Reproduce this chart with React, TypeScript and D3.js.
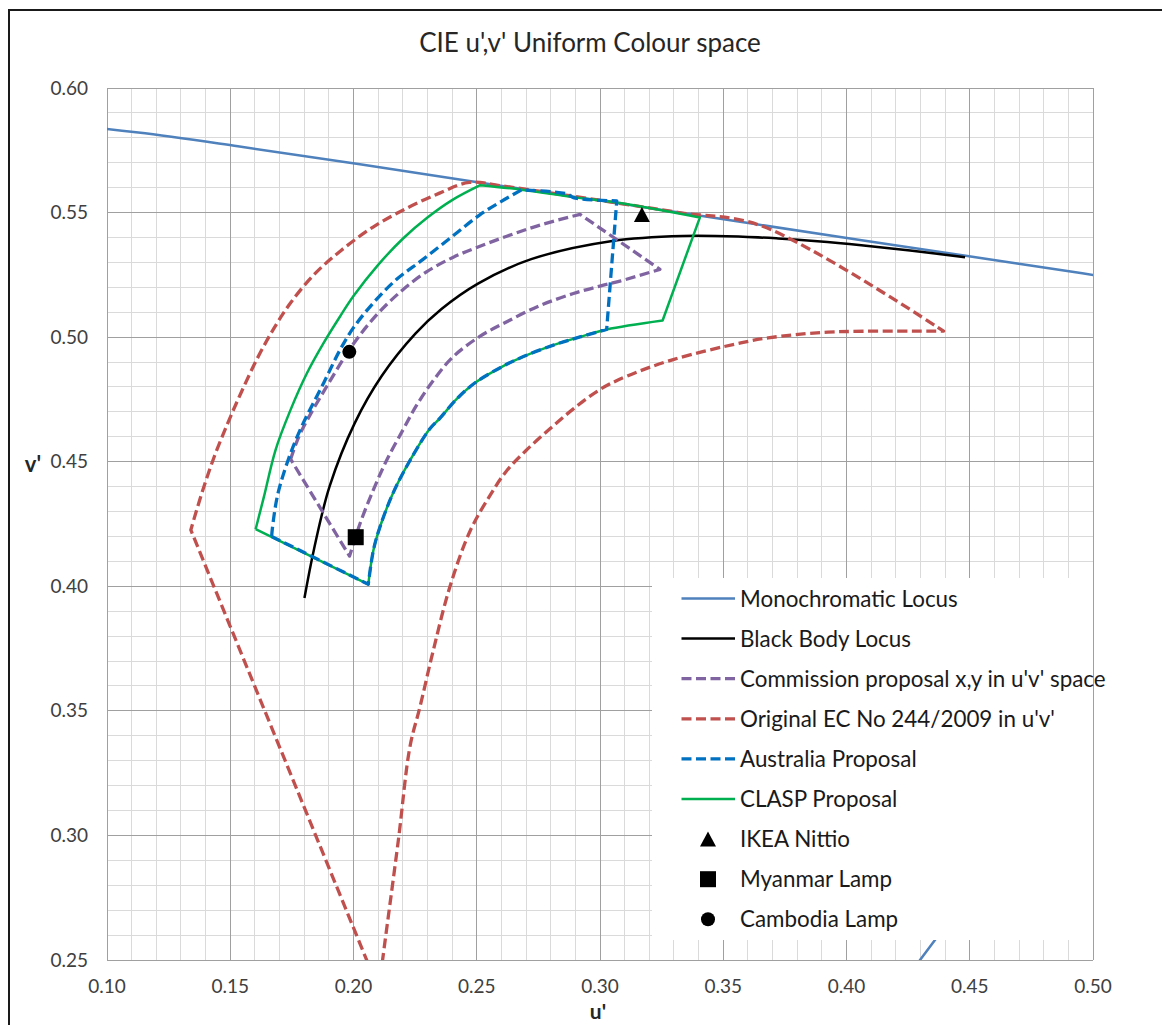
import React from "react";
import * as d3 from "d3";

// ---------- data (u', v') ----------
const xTickValues = [0.1, 0.15, 0.2, 0.25, 0.3, 0.35, 0.4, 0.45, 0.5];
const yTickValues = [0.25, 0.3, 0.35, 0.4, 0.45, 0.5, 0.55, 0.6];

const monochromaticLocus: [number, number][] = [
  [0.0501, 0.5868], [0.0792, 0.5856], [0.1127, 0.5821], [0.1531, 0.5766],
  [0.2026, 0.5694], [0.2623, 0.5604], [0.3315, 0.5501], [0.4035, 0.5393],
  [0.4692, 0.5296], [0.5203, 0.5219], [0.583, 0.5125], [0.6234, 0.5065],
  [0.254, 0.017],
];

const blackBodyLocus: [number, number][] = [
  [0.4481, 0.5321], [0.4258, 0.5348], [0.406, 0.5369], [0.3882, 0.5385],
  [0.3723, 0.5396], [0.358, 0.5403], [0.3336, 0.5406], [0.305, 0.5386],
  [0.2721, 0.5313], [0.2505, 0.5215], [0.2357, 0.5113], [0.2252, 0.5015],
  [0.2115, 0.4845], [0.2005, 0.4655], [0.1903, 0.4401], [0.184, 0.415],
  [0.1801, 0.3953],
];

const commissionProposal: [number, number][] = [
  [0.1745, 0.451], [0.1778, 0.46], [0.1825, 0.469], [0.1892, 0.4803],
  [0.1987, 0.4955], [0.2081, 0.5075], [0.2188, 0.518], [0.2296, 0.5262],
  [0.2403, 0.532], [0.25, 0.536], [0.2622, 0.5405], [0.2757, 0.545],
  [0.2919, 0.5493], [0.3243, 0.5272], [0.3081, 0.5225], [0.3, 0.5205],
  [0.2892, 0.5175], [0.2757, 0.5127], [0.2622, 0.5062], [0.2511, 0.5002],
  [0.2403, 0.492], [0.2323, 0.4825], [0.2255, 0.4725], [0.2202, 0.463],
  [0.2134, 0.4505], [0.2081, 0.4388], [0.2027, 0.4253], [0.1984, 0.4121],
  [0.1745, 0.451],
];

const originalEC: [number, number][] = [
  [0.2103, 0.238], [0.134, 0.4226], [0.1385, 0.4375], [0.1435, 0.452],
  [0.149, 0.4655], [0.1543, 0.4775], [0.161, 0.4915], [0.1677, 0.5035],
  [0.1745, 0.5138], [0.1839, 0.525], [0.1946, 0.5345], [0.2081, 0.5443],
  [0.2215, 0.5517], [0.2349, 0.5578], [0.247, 0.5621], [0.2623, 0.5604],
  [0.3315, 0.5501], [0.3651, 0.5448], [0.4394, 0.5024], [0.3925, 0.502],
  [0.3682, 0.4997], [0.3571, 0.4977], [0.3297, 0.491], [0.3108, 0.4843],
  [0.3, 0.479], [0.2892, 0.4712], [0.2797, 0.4632], [0.27, 0.4545],
  [0.262, 0.4462], [0.2554, 0.4365], [0.2473, 0.4222], [0.2391, 0.3998],
  [0.2324, 0.3744], [0.227, 0.3517], [0.2229, 0.3356], [0.2182, 0.2981],
  [0.2118, 0.25], [0.2103, 0.238],
];

const australiaProposal: [number, number][] = [
  [0.1668, 0.42], [0.1671, 0.4233], [0.1691, 0.4361], [0.1731, 0.4496],
  [0.1785, 0.4631], [0.1879, 0.4816], [0.1946, 0.495], [0.2, 0.5038],
  [0.2081, 0.5138], [0.2175, 0.5232], [0.2282, 0.5312], [0.2403, 0.5406],
  [0.2511, 0.549], [0.26, 0.5545], [0.2682, 0.5591], [0.2865, 0.5575],
  [0.2892, 0.556], [0.3068, 0.5547], [0.3027, 0.5031], [0.2919, 0.5001],
  [0.2811, 0.4968], [0.2689, 0.4922], [0.26, 0.488], [0.2492, 0.4816],
  [0.2419, 0.4752], [0.2351, 0.4675], [0.2309, 0.4631], [0.2228, 0.4503],
  [0.2161, 0.4375], [0.2108, 0.424], [0.2081, 0.4146], [0.206, 0.4008],
  [0.1668, 0.42],
];

const claspProposal: [number, number][] = [
  [0.1603, 0.4229], [0.1637, 0.4361], [0.1684, 0.4548], [0.1745, 0.4709],
  [0.1812, 0.4857], [0.1879, 0.4977], [0.1946, 0.5084], [0.2, 0.5165],
  [0.21, 0.529], [0.22, 0.5395], [0.23, 0.548], [0.24, 0.555],
  [0.2514, 0.561], [0.2682, 0.5592], [0.2892, 0.5562], [0.3068, 0.554],
  [0.3405, 0.548], [0.3254, 0.5067], [0.3027, 0.5031], [0.2919, 0.5001],
  [0.2811, 0.4968], [0.2689, 0.4922], [0.26, 0.488], [0.2492, 0.4816],
  [0.2419, 0.4752], [0.2351, 0.4675], [0.2309, 0.4631], [0.2228, 0.4503],
  [0.2161, 0.4375], [0.2108, 0.424], [0.2081, 0.4146], [0.206, 0.4008],
  [0.1603, 0.4229],
];

const ikeaNittio: [number, number] = [0.317, 0.5492];
const myanmarLamp: [number, number] = [0.2009, 0.4197];
const cambodiaLamp: [number, number] = [0.1983, 0.4941];

const legendNames = [
  "Monochromatic Locus",
  "Black Body Locus",
  "Commission proposal x,y in u'v' space",
  "Original EC No 244/2009 in u'v'",
  "Australia Proposal",
  "CLASP Proposal",
  "IKEA Nittio",
  "Myanmar Lamp",
  "Cambodia Lamp",
];

const FONT = "Lato, 'Open Sans', 'DejaVu Sans', sans-serif";

type Style = { color?: string; width?: number; dash?: string; marker?: string };
const styles: Style[] = [
  { color: "#4F81BD", width: 2.5 },
  { color: "#000000", width: 2.5 },
  { color: "#8064A2", width: 3.3, dash: "10,4.5" },
  { color: "#C0504D", width: 3.3, dash: "10,4.5" },
  { color: "#0070C0", width: 3.3, dash: "10,4.5" },
  { color: "#00B050", width: 2.5 },
  { marker: "triangle" },
  { marker: "square" },
  { marker: "circle" },
];

function markerPath(kind: string, cx: number, cy: number): JSX.Element {
  if (kind === "triangle") {
    const w = 16, h = 15;
    const pts = `${cx},${cy - h / 2} ${cx + w / 2},${cy + h / 2} ${cx - w / 2},${cy + h / 2}`;
    return <polygon points={pts} fill="#000" />;
  }
  if (kind === "square") {
    const s = 16;
    return <rect x={cx - s / 2} y={cy - s / 2} width={s} height={s} fill="#000" />;
  }
  return <circle cx={cx} cy={cy} r={7} fill="#000" />;
}

export default function App() {
  const W = 1162, H = 1025;
  const L = 107, R = 1093, T = 88, B = 960;
  const x = d3.scaleLinear().domain([0.1, 0.5]).range([L, R]);
  const y = d3.scaleLinear().domain([0.25, 0.6]).range([B, T]);

  const smoothRun = d3
    .line<[number, number]>()
    .x((d) => d[0])
    .y((d) => d[1])
    .curve(d3.curveCatmullRom.alpha(0.5));

  // smooth curve through points, keeping sharp corners (turn > 30°) as corners
  const buildPath = (data: [number, number][]): string => {
    const pts = data.map((d) => [x(d[0]), y(d[1])] as [number, number]);
    const corners = [0];
    for (let i = 1; i < pts.length - 1; i++) {
      const a1 = Math.atan2(pts[i][1] - pts[i - 1][1], pts[i][0] - pts[i - 1][0]);
      const a2 = Math.atan2(pts[i + 1][1] - pts[i][1], pts[i + 1][0] - pts[i][0]);
      let da = Math.abs(a2 - a1);
      if (da > Math.PI) da = 2 * Math.PI - da;
      if (da > (30 * Math.PI) / 180) corners.push(i);
    }
    corners.push(pts.length - 1);
    let d = "";
    for (let k = 0; k < corners.length - 1; k++) {
      const run = pts.slice(corners[k], corners[k + 1] + 1);
      let seg = smoothRun(run) || "";
      if (d !== "") seg = "L" + seg.slice(1);
      d += seg;
    }
    return d;
  };

  const minorX = d3.range(0, 41).filter((i) => i % 5 !== 0).map((i) => 0.1 + i * 0.01);
  const minorY = d3.range(0, 36).filter((i) => i % 5 !== 0).map((i) => 0.25 + i * 0.01);

  const series: { data: [number, number][]; s: Style }[] = [
    { data: monochromaticLocus, s: styles[0] },
    { data: blackBodyLocus, s: styles[1] },
    { data: commissionProposal, s: styles[2] },
    { data: originalEC, s: styles[3] },
    { data: claspProposal, s: styles[5] },
    { data: australiaProposal, s: styles[4] },
  ];

  const legX = 652, legY = 578, legW = R - 652, legH = 362;
  const rowY0 = 598.5, rowStep = 40.1;

  return (
    <svg
      width={W}
      height={H}
      style={{ position: "absolute", left: 0, top: 0, background: "#fff", display: "block" }}
      fontFamily={FONT}
    >
      <defs>
        <clipPath id="plotClip">
          <rect x={L} y={T} width={R - L} height={B - T} />
        </clipPath>
      </defs>
      <rect x={0} y={0} width={W} height={H} fill="#fff" />
      {/* chart border */}
      <rect x={9} y={10} width={W + 20} height={H + 20} fill="none" stroke="#1a1a1a" strokeWidth={2} />

      {/* title */}
      <text x={590} y={52} textAnchor="middle" fontSize={26} fill="#262626">
        CIE u',v' Uniform Colour space
      </text>

      {/* minor gridlines */}
      <g stroke="#DADADA" strokeWidth={1} shapeRendering="crispEdges">
        {minorX.map((v, i) => (
          <line key={"mx" + i} x1={x(v)} x2={x(v)} y1={T} y2={B} />
        ))}
        {minorY.map((v, i) => (
          <line key={"my" + i} x1={L} x2={R} y1={y(v)} y2={y(v)} />
        ))}
      </g>
      {/* major gridlines */}
      <g stroke="#A0A0A0" strokeWidth={1} shapeRendering="crispEdges">
        {xTickValues.map((v, i) => (
          <line key={"Mx" + i} x1={x(v)} x2={x(v)} y1={T} y2={B} />
        ))}
        {yTickValues.map((v, i) => (
          <line key={"My" + i} x1={L} x2={R} y1={y(v)} y2={y(v)} />
        ))}
      </g>

      {/* series */}
      <g clipPath="url(#plotClip)" fill="none" strokeLinejoin="round">
        {series.map((sr, i) => (
          <path
            key={"s" + i}
            d={buildPath(sr.data)}
            stroke={sr.s.color}
            strokeWidth={sr.s.width}
            strokeDasharray={sr.s.dash}
          />
        ))}
        {markerPath("triangle", x(ikeaNittio[0]), y(ikeaNittio[1]))}
        {markerPath("square", x(myanmarLamp[0]), y(myanmarLamp[1]))}
        {markerPath("circle", x(cambodiaLamp[0]), y(cambodiaLamp[1]))}
      </g>

      {/* tick labels */}
      <g fontSize={19} fill="#404040">
        {yTickValues.map((v, i) => (
          <text key={"yl" + i} x={88} y={y(v) + 6.5} textAnchor="end">
            {v.toFixed(2)}
          </text>
        ))}
        {xTickValues.map((v, i) => (
          <text key={"xl" + i} x={x(v)} y={993} textAnchor="middle">
            {v.toFixed(2)}
          </text>
        ))}
      </g>

      {/* axis titles */}
      <text x={598} y={1019} textAnchor="middle" fontSize={21} fontWeight="bold" fill="#262626">
        u'
      </text>
      <text x={33} y={472} textAnchor="middle" fontSize={22} fontWeight="bold" fill="#262626">
        v'
      </text>

      {/* legend */}
      <rect x={legX} y={legY} width={legW} height={legH} fill="#fff" />
      <g fontSize={22.4} fill="#1a1a1a">
        {legendNames.map((name, i) => {
          const cy = rowY0 + i * rowStep;
          const st = styles[i];
          return (
            <g key={"lg" + i}>
              {st.marker ? (
                markerPath(st.marker, 708, cy)
              ) : (
                <line
                  x1={681.5}
                  x2={735}
                  y1={cy}
                  y2={cy}
                  stroke={st.color}
                  strokeWidth={st.width}
                  strokeDasharray={st.dash}
                />
              )}
              <text x={740} y={cy + 8}>
                {name}
              </text>
            </g>
          );
        })}
      </g>
    </svg>
  );
}
